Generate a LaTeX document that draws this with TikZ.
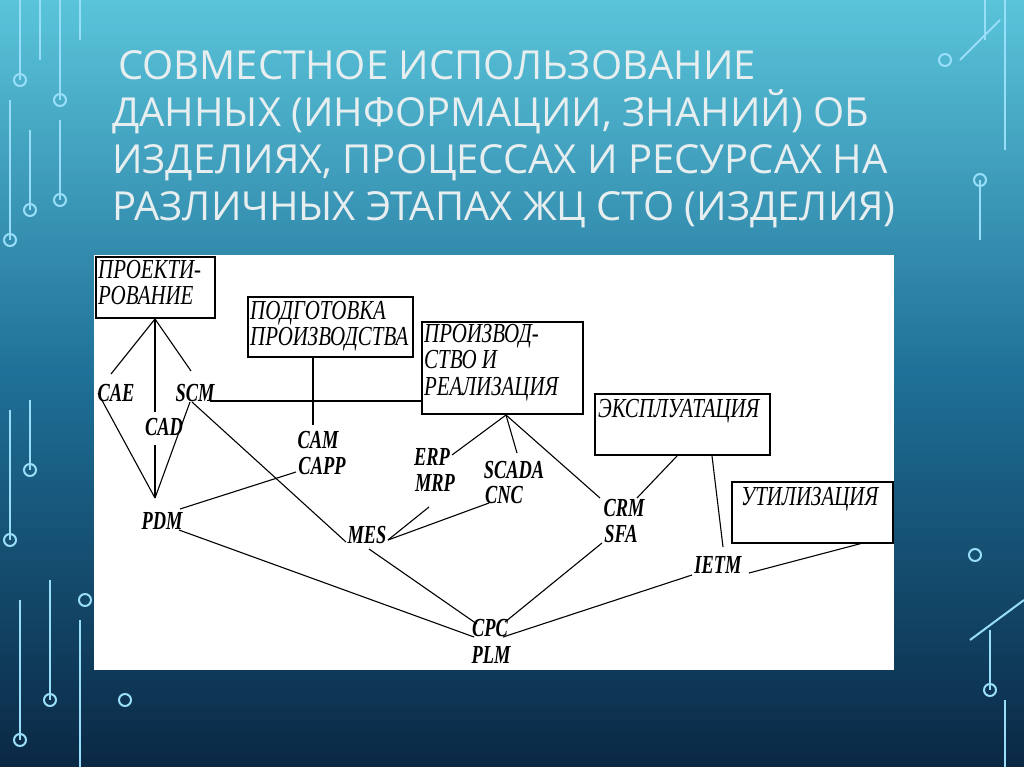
\documentclass[tikz,border=0pt]{standalone}
\usepackage{fontspec}
\setmainfont{Liberation Serif}
\newfontfamily\titlefont{Open Sans}
\newcommand{\tall}[1]{\scalebox{0.92}[1.3]{#1}}
\newcommand{\btall}[1]{\scalebox{0.95}[1.25]{\begin{tabular}{@{}l@{}}#1\end{tabular}}}
\begin{document}
\begin{tikzpicture}[x=1pt,y=-1pt,
  lbl/.style={font=\fontsize{20}{22}\selectfont\bfseries\itshape, inner sep=0pt},
  boxt/.style={font=\fontsize{22}{21}\selectfont\itshape, inner sep=1pt, anchor=north west},
  ln/.style={line width=1.1pt, black},
  circ/.style={draw=cyan!40!white, line width=2pt},
]
\useasboundingbox (0,0) rectangle (1024,767);
\shade[top color={rgb,255:red,90;green,196;blue,218}, bottom color={rgb,255:red,10;green,40;blue,68}, middle color={rgb,255:red,30;green,110;blue,150}] (0,0) rectangle (1024,767);
% circuit decorations
\foreach \x/\y/\ex/\ey in {20/0/20/80, 40/0/40/60, 60/0/60/100, 80/0/80/40, 10/100/10/240, 30/130/30/210, 60/120/60/200, 985/0/985/40, 1005/0/1005/150, 960/60/1000/20, 980/180/980/240, 970/640/1024/600, 990/630/990/690, 1005/700/1005/767, 20/600/20/740, 50/580/50/700, 80/620/80/767, 30/400/30/470, 10/410/10/540}
  \draw[circ] (\x,\y) -- (\ex,\ey);
\foreach \x/\y in {20/80,60/100,10/240,30/210,60/200,945/60,980/180,975/555,990/690,20/740,50/700,30/470,10/540,125/700,85/600}
  \draw[circ, fill=none] (\x,\y) circle (6);
% title
\node[anchor=north west, align=left, text={rgb,255:red,230;green,238;blue,240}, font=\titlefont\fontsize{40}{47}\selectfont, inner sep=0pt] (title) at (112,50)
 {\hspace*{6pt}СОВМЕСТНОЕ ИСПОЛЬЗОВАНИЕ\\ДАННЫХ (ИНФОРМАЦИИ, ЗНАНИЙ) ОБ\\ИЗДЕЛИЯХ, ПРОЦЕССАХ И РЕСУРСАХ НА\\РАЗЛИЧНЫХ ЭТАПАХ ЖЦ СТО (ИЗДЕЛИЯ)};
% panel
\fill[white] (94,255) rectangle (894,670);
% boxes
\draw[ln] (96,257) rectangle (215,318);
\node[boxt] (b1) at (97,259) {\btall{ПРОЕКТИ-\\РОВАНИЕ}};
\draw[ln] (248,297) rectangle (413,357);
\node[boxt] (b2) at (249,300) {\btall{ПОДГОТОВКА\\ПРОИЗВОДСТВА}};
\draw[ln] (422,322) rectangle (583,414);
\node[boxt] (b3) at (423,323) {\btall{ПРОИЗВОД-\\СТВО И\\РЕАЛИЗАЦИЯ}};
\draw[ln] (595,394) rectangle (770,455);
\node[boxt] (b4) at (597,398) {\btall{ЭКСПЛУАТАЦИЯ}};
\draw[ln] (732,482) rectangle (893,543);
\node[boxt] (b5) at (740,486) {\btall{УТИЛИЗАЦИЯ}};
% labels
\node[lbl] (cae) at (116,393) {\tall{CAE}};
\node[lbl] (scm) at (195,393) {\tall{SCM}};
\node[lbl] (cad) at (164,427) {\tall{CAD}};
\node[lbl] (cam) at (318,440) {\tall{CAM}};
\node[lbl] (capp) at (322,466) {\tall{CAPP}};
\node[lbl] (erp) at (432,457) {\tall{ERP}};
\node[lbl] (mrp) at (435,483) {\tall{MRP}};
\node[lbl] (scada) at (514,470) {\tall{SCADA}};
\node[lbl] (cnc) at (504,495) {\tall{CNC}};
\node[lbl] (pdm) at (162,521) {\tall{PDM}};
\node[lbl] (mes) at (367,535) {\tall{MES}};
\node[lbl] (cpc) at (490,628) {\tall{CPC}};
\node[lbl] (plm) at (491,655) {\tall{PLM}};
\node[lbl] (crm) at (624,508) {\tall{CRM}};
\node[lbl] (sfa) at (621,534) {\tall{SFA}};
\node[lbl] (ietm) at (718,565) {\tall{IETM}};
% coordinates
\coordinate (pa) at (155,319);
\coordinate (pra) at (506,415);
\coordinate (pdmt) at (155,498);
\coordinate (mesr) at (388,540);
% connectors
\draw[ln] (pa) -- (111,374);
\draw[ln] (pa) -- (155,412);
\draw[ln] (pa) -- (191,371);
\draw[ln] (155,445) -- (pdmt);
\draw[ln] (98,393) -- (pdmt);
\draw[ln] (190,402) -- (pdmt);
\draw[ln] (210,401) -- (422,401);
\draw[ln] (192,402) -- (346,542);
\draw[ln] (313,357) -- (313,425);
\draw[ln] (296,472) -- (180,509);
\draw[ln] (179,530) -- (474,637);
\draw[ln] (369,549) -- (477,624);
\draw[ln] (429,507) -- (mesr);
\draw[ln] (489,503) -- (mesr);
\draw[ln] (pra) -- (452,455);
\draw[ln] (pra) -- (517,453);
\draw[ln] (pra) -- (600,498);
\draw[ln] (677,456) -- (637,498);
\draw[ln] (712,456) -- (723,547);
\draw[ln] (863,543) -- (749,573);
\draw[ln] (692,575) -- (503,637);
\draw[ln] (602,543) -- (505,622);
\end{tikzpicture}
\end{document}
